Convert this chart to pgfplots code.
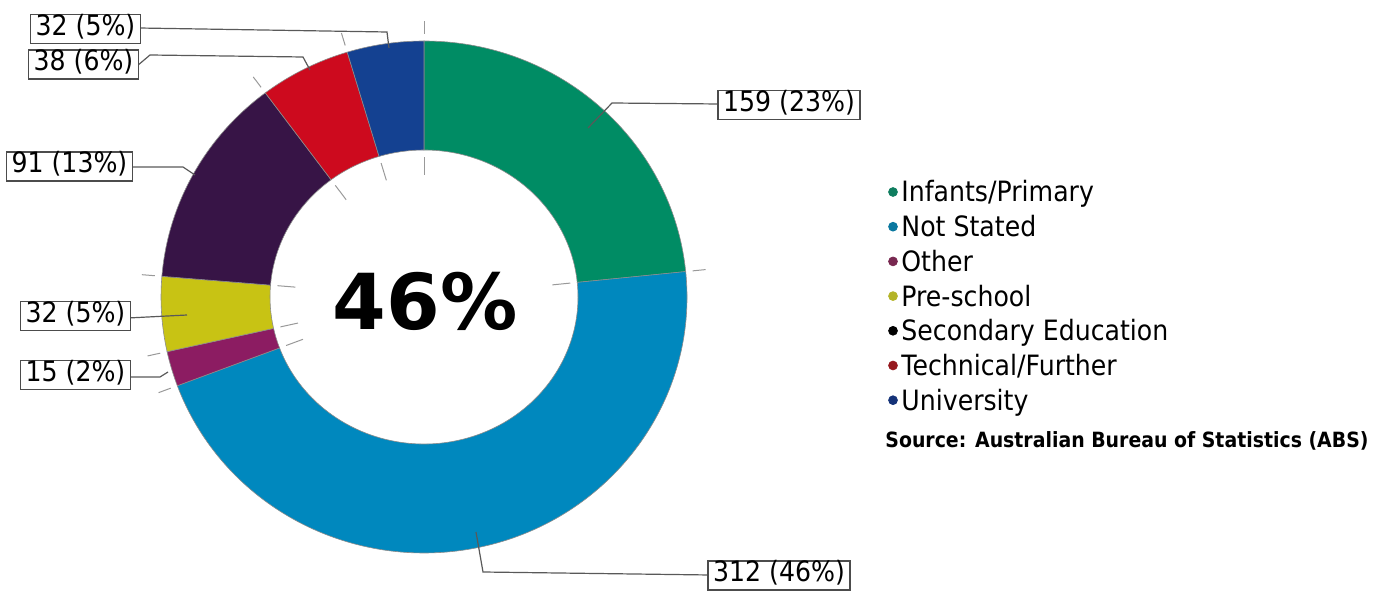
\documentclass[border=0pt]{standalone}
\usepackage{pgfplots}
\usepackage{pgfplotstable}
\pgfplotsset{compat=1.18}
\usepackage{fontspec}
\setmainfont{DejaVu Sans}[FakeStretch=0.9]
\newfontfamily\bigfont{DejaVu Sans}

\definecolor{cInf}{RGB}{0,140,100}
\definecolor{cNot}{RGB}{0,136,190}
\definecolor{cOth}{RGB}{140,28,98}
\definecolor{cPre}{RGB}{200,195,20}
\definecolor{cSec}{RGB}{55,20,70}
\definecolor{cTec}{RGB}{205,10,30}
\definecolor{cUni}{RGB}{20,65,145}
\definecolor{lInf}{RGB}{15,125,95}
\definecolor{lNot}{RGB}{10,120,160}
\definecolor{lOth}{RGB}{120,40,80}
\definecolor{lPre}{RGB}{180,180,40}
\definecolor{lSec}{RGB}{0,0,0}
\definecolor{lTec}{RGB}{150,25,30}
\definecolor{lUni}{RGB}{20,50,120}

\tikzset{
  lbl/.style={draw=black!70, line width=0.7pt, fill=white, font=\fontsize{14}{16}\selectfont,
    text height=0.76em, text depth=0.14em, inner xsep=2.5pt, inner ysep=2.8pt},
  leg/.style={anchor=base west, font=\fontsize{14}{16}\selectfont, inner sep=0pt}}

\pgfplotstableread{
name value color
Infants 159 cInf
NotStated 312 cNot
Other 15 cOth
Preschool 32 cPre
Secondary 91 cSec
Technical 38 cTec
University 32 cUni
}\donutdata

\begin{document}
\begin{tikzpicture}
\begin{axis}[x=0.5pt, y=0.5pt, xmin=0, xmax=1392, ymin=0, ymax=595,
  hide axis, clip=false, disabledatascaling,
  leader/.style={black!65, line width=0.6pt, no marks}]
\path (axis cs:0,0) rectangle (axis cs:1392,595);

\pgfplotstablegetrowsof{\donutdata}
\pgfmathtruncatemacro\nrows{\pgfplotsretval-1}
\def\total{0}
\pgfplotsforeachungrouped \i in {0,...,\nrows}{%
  \pgfplotstablegetelem{\i}{value}\of\donutdata
  \pgfmathsetmacro\total{\total+\pgfplotsretval}%
}
\def\cum{0}
\pgfplotsforeachungrouped \i in {0,...,\nrows}{%
  \pgfplotstablegetelem{\i}{value}\of\donutdata
  \let\v\pgfplotsretval
  \pgfmathsetmacro\aS{90-(\cum/\total)*360}%
  \pgfmathsetmacro\cum{\cum+\v}%
  \pgfmathsetmacro\aE{90-(\cum/\total)*360}%
  \pgfmathsetmacro\xa{424+263*cos(\aS)}%
  \pgfmathsetmacro\ya{298+256*sin(\aS)}%
  \pgfmathsetmacro\xb{424+154*cos(\aE)}%
  \pgfmathsetmacro\yb{298+147*sin(\aE)}%
  \pgfmathsetmacro\toxa{424+270*cos(\aS)}%
  \pgfmathsetmacro\toya{298+263*sin(\aS)}%
  \pgfmathsetmacro\toxb{424+283*cos(\aS)}%
  \pgfmathsetmacro\toyb{298+276*sin(\aS)}%
  \pgfmathsetmacro\tixa{424+129*cos(\aS)}%
  \pgfmathsetmacro\tiya{298+122*sin(\aS)}%
  \pgfmathsetmacro\tixb{424+147*cos(\aS)}%
  \pgfmathsetmacro\tiyb{298+140*sin(\aS)}%
  \pgfplotstablegetelem{\i}{color}\of\donutdata
  \edef\temp{\noexpand\fill[fill=\pgfplotsretval, draw=black!45, line width=0.3pt]
    (axis cs:\xa,\ya) arc[start angle=\aS, end angle=\aE, x radius=263, y radius=256]
    -- (axis cs:\xb,\yb) arc[start angle=\aE, end angle=\aS, x radius=154, y radius=147] -- cycle;
    \noexpand\draw[black!40, line width=0.5pt] (axis cs:\toxa,\toya) -- (axis cs:\toxb,\toyb);
    \noexpand\draw[black!40, line width=0.5pt] (axis cs:\tixa,\tiya) -- (axis cs:\tixb,\tiyb);}%
  \temp
}

% leader lines
\addplot[leader] coordinates {(139,567) (387,563) (389,547)};
\addplot[leader] coordinates {(137,529) (150,540) (303,538) (310,525)};
\addplot[leader] coordinates {(131,428) (183,428) (195,420)};
\addplot[leader] coordinates {(128,277) (187,280)};
\addplot[leader] coordinates {(128,218) (160,218) (168,223)};
\addplot[leader] coordinates {(719,491) (612,492) (588,467)};
\addplot[leader] coordinates {(710,20) (483,23) (476,63)};

% value labels
\node[lbl] at (axis cs:85.5,566) {32 (5\%)};
\node[lbl] at (axis cs:83.5,530.5) {38 (6\%)};
\node[lbl] at (axis cs:69.5,428.5) {91 (13\%)};
\node[lbl] at (axis cs:75.5,279) {32 (5\%)};
\node[lbl] at (axis cs:75.5,220) {15 (2\%)};
\node[lbl] at (axis cs:789,490) {159 (23\%)};
\node[lbl] at (axis cs:779,19.5) {312 (46\%)};

% centre text
\node[anchor=base, inner sep=0pt, font=\bigfont\bfseries\fontsize{38.6}{40}\selectfont] at (axis cs:425,265) {46\%};

% legend
\addplot[only marks, mark=*, mark size=2.2pt, lInf] coordinates {(893,403)};
\addplot[only marks, mark=*, mark size=2.2pt, lNot] coordinates {(893,368.3)};
\addplot[only marks, mark=*, mark size=2.2pt, lOth] coordinates {(893,333.6)};
\addplot[only marks, mark=*, mark size=2.2pt, lPre] coordinates {(893,298.9)};
\addplot[only marks, mark=*, mark size=2.2pt, lSec] coordinates {(893,264.2)};
\addplot[only marks, mark=*, mark size=2.2pt, lTec] coordinates {(893,229.5)};
\addplot[only marks, mark=*, mark size=2.2pt, lUni] coordinates {(893,194.8)};
\node[leg] at (axis cs:901,393) {Infants/Primary};
\node[leg] at (axis cs:901,358.3) {Not Stated};
\node[leg] at (axis cs:901,323.6) {Other};
\node[leg] at (axis cs:901,288.9) {Pre-school};
\node[leg] at (axis cs:901,254.2) {Secondary Education};
\node[leg] at (axis cs:901,219.5) {Technical/Further};
\node[leg] at (axis cs:901,184.8) {University};
\node[anchor=base west, inner sep=0pt, font=\bfseries\fontsize{10.5}{12}\selectfont] at (axis cs:885,148) {Source: Australian Bureau of Statistics (ABS)};
\end{axis}
\end{tikzpicture}
\end{document}
